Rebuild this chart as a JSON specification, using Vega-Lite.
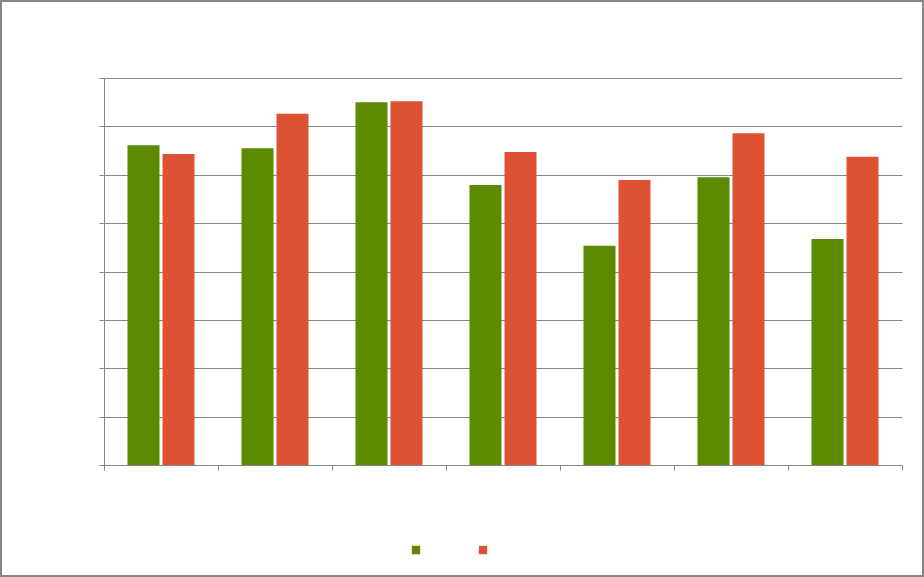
{
  "$schema": "https://vega.github.io/schema/vega-lite/v6.json",
  "autosize": "none",
  "width": 924,
  "height": 577,
  "padding": 0,
  "background": "white",
  "config": {
    "view": {"stroke": "#868686", "strokeWidth": 4},
    "axis": {"domainColor": "#868686", "tickColor": "#868686", "gridColor": "#868686", "domainWidth": 1, "tickWidth": 1, "gridWidth": 1, "tickSize": 5, "labels": false, "title": null}
  },
  "data": {
    "values": [
      {"category": "1", "series": "Series 1", "value": 6.61},
      {"category": "1", "series": "Series 2", "value": 6.43},
      {"category": "2", "series": "Series 1", "value": 6.55},
      {"category": "2", "series": "Series 2", "value": 7.26},
      {"category": "3", "series": "Series 1", "value": 7.50},
      {"category": "3", "series": "Series 2", "value": 7.52},
      {"category": "4", "series": "Series 1", "value": 5.79},
      {"category": "4", "series": "Series 2", "value": 6.47},
      {"category": "5", "series": "Series 1", "value": 4.53},
      {"category": "5", "series": "Series 2", "value": 5.89},
      {"category": "6", "series": "Series 1", "value": 5.95},
      {"category": "6", "series": "Series 2", "value": 6.86},
      {"category": "7", "series": "Series 1", "value": 4.67},
      {"category": "7", "series": "Series 2", "value": 6.37}
    ]
  },
  "mark": {"type": "bar"},
  "encoding": {
    "x": {
      "field": "category", "type": "nominal",
      "scale": {"range": [104, 902], "paddingInner": 0, "paddingOuter": 0},
      "axis": {"grid": false, "tickBand": "extent", "offset": -112, "domain": true, "ticks": true}
    },
    "xOffset": {
      "field": "series", "type": "nominal",
      "scale": {"paddingInner": 0.0857, "paddingOuter": 0.671}
    },
    "y": {
      "field": "value", "type": "quantitative",
      "scale": {"domain": [0, 8], "range": [465, 78], "nice": false, "zero": true},
      "axis": {"values": [0, 1, 2, 3, 4, 5, 6, 7, 8], "grid": true, "offset": -104}
    },
    "color": {
      "field": "series", "type": "nominal",
      "scale": {"range": ["#5c8a00", "#de5234"]},
      "legend": {
        "orient": "none", "legendX": 411, "legendY": 545, "direction": "horizontal",
        "title": null, "labelExpr": "''", "symbolType": "square", "symbolSize": 70,
        "symbolStrokeWidth": 0, "labelOffset": 0, "columnPadding": 57, "padding": 0
      }
    }
  }
}
